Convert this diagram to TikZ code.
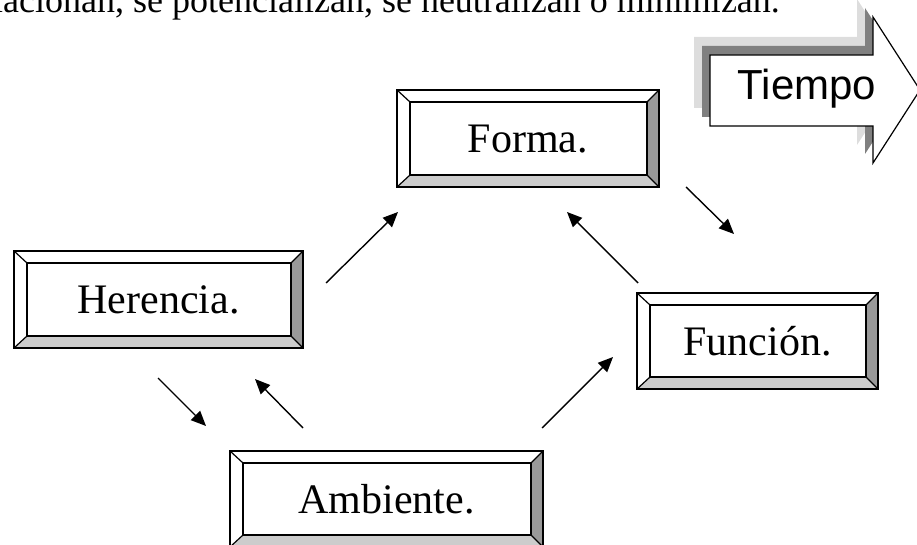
\documentclass[tikz,border=0pt]{standalone}
\usepackage{fontspec}
\setmainfont{Liberation Serif}
\newfontfamily\arialf{Liberation Sans}
\usetikzlibrary{arrows.meta}
\definecolor{bevdark}{HTML}{999999}
\definecolor{bevlight}{HTML}{CCCCCC}
\definecolor{shdark}{HTML}{808080}
\definecolor{shlight}{HTML}{DDDDDD}
\tikzset{
  boxline/.style={line width=1.2pt, line join=miter},
  boxtext/.style={anchor=base, font=\fontsize{42}{50}\selectfont, inner sep=0pt},
  conn/.style={line width=1.4pt, -{Triangle[length=15pt,width=13pt]}},
}
\newcommand\bevbox[6]{%
  \fill[bevdark] (#4,#3) -- (#4,#5) -- (#4-12,#5-12) -- (#4-12,#3+12) -- cycle;
  \fill[bevlight] (#2,#5) -- (#4,#5) -- (#4-12,#5-12) -- (#2+13,#5-12) -- cycle;
  \draw[boxline] (#2,#3) rectangle (#4,#5);
  \draw[boxline] (#2+13,#3+12) rectangle (#4-12,#5-12);
  \draw[boxline] (#2,#3) -- (#2+13,#3+12) (#4,#3) -- (#4-12,#3+12)
                 (#2,#5) -- (#2+13,#5-12) (#4,#5) -- (#4-12,#5-12);
  \node[boxtext] (#1) at ({(#2+#4)/2}, {(#3+#5)/2+14}) {#6};
}
\begin{document}
\begin{tikzpicture}[x=1pt,y=-1pt]
\useasboundingbox (0,0) rectangle (917,545);
\clip (0,0) rectangle (917,545);
% top text
\node[anchor=base east, inner sep=0pt, font=\fontsize{36}{42}\selectfont] (toptext) at (780,13)
  {relacionan, se potencializan, se neutralizan o minimizan.};
% Tiempo arrow
\def\tarrow{(710,55) -- (873,55) -- (873,17) -- (920,90) -- (873,163) -- (873,126) -- (710,126) -- cycle}
\fill[shlight, shift={(-16,-18)}] \tarrow;
\fill[shdark, shift={(-8,-9)}] \tarrow;
\filldraw[fill=white, draw=black, line width=1.2pt] \tarrow;
\node[anchor=base, inner sep=0pt, font=\arialf\fontsize{42}{50}\selectfont] (tiempo) at (807,100) {Tiempo};
% boxes
\bevbox{forma}{397}{90}{659}{187}{Forma.}
\bevbox{herencia}{14}{251}{303}{348}{Herencia.}
\bevbox{ambiente}{230}{451}{543}{547}{Ambiente.}
\bevbox{funcion}{637}{293}{878}{389}{Función.}
% connector ends
\coordinate (hf1) at (326,283); \coordinate (hf2) at (398,212);
\coordinate (ff1) at (638,283); \coordinate (ff2) at (567,212);
\coordinate (fo1) at (686,187); \coordinate (fo2) at (734,234);
\coordinate (ha1) at (158,378); \coordinate (ha2) at (206,426);
\coordinate (ah1) at (303,428); \coordinate (ah2) at (255,379);
\coordinate (af1) at (542,428); \coordinate (af2) at (613,357);
\draw[conn] (hf1) -- (hf2);
\draw[conn] (ff1) -- (ff2);
\draw[conn] (fo1) -- (fo2);
\draw[conn] (ha1) -- (ha2);
\draw[conn] (ah1) -- (ah2);
\draw[conn] (af1) -- (af2);
\end{tikzpicture}
\end{document}
